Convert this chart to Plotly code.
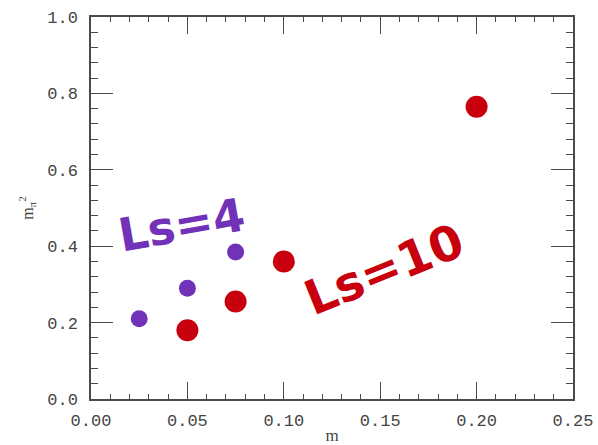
import plotly.graph_objects as go

# quark mass m and squared pion mass for two fifth-dimension extents
m_ls4 = [0.025, 0.05, 0.075]
mpi2_ls4 = [0.21, 0.29, 0.385]

m_ls10 = [0.05, 0.075, 0.10, 0.20]
mpi2_ls10 = [0.18, 0.255, 0.36, 0.765]

x_ticks = [0.00, 0.05, 0.10, 0.15, 0.20, 0.25]
x_ticklabels = ["0.00", "0.05", "0.10", "0.15", "0.20", "0.25"]
y_ticks = [0.0, 0.2, 0.4, 0.6, 0.8, 1.0]
y_ticklabels = ["0.0", "0.2", "0.4", "0.6", "0.8", "1.0"]

RED = "#c8000e"
PURPLE = "#7232b8"
AXIS = "#4a4a4a"

fig = go.Figure()

# original data markers (small open squares)
for xs, ys in ((m_ls4, mpi2_ls4), (m_ls10, mpi2_ls10)):
    fig.add_trace(go.Scatter(
        x=xs, y=ys, mode="markers",
        marker=dict(symbol="square-open", size=6, color="#888888", line=dict(width=1)),
        showlegend=False, hoverinfo="skip",
    ))

# highlighted points
fig.add_trace(go.Scatter(
    x=m_ls4, y=mpi2_ls4, mode="markers", name="Ls=4",
    marker=dict(symbol="circle", size=17, color=PURPLE, line=dict(width=0)),
    showlegend=False,
))
fig.add_trace(go.Scatter(
    x=m_ls10, y=mpi2_ls10, mode="markers", name="Ls=10",
    marker=dict(symbol="circle", size=22, color=RED, line=dict(width=0)),
    showlegend=False,
))

fig.add_annotation(
    x=0.047, y=0.455, xref="x", yref="y", text="<b>Ls=4</b>", showarrow=False,
    textangle=-10, font=dict(family="DejaVu Sans", size=46, color=PURPLE),
)
fig.add_annotation(
    x=0.152, y=0.34, xref="x", yref="y", text="<b>Ls=10</b>", showarrow=False,
    textangle=-22, font=dict(family="DejaVu Sans", size=48, color=RED),
)

axis_common = dict(
    showline=True, linecolor=AXIS, linewidth=1.5, mirror="ticks",
    showgrid=False, zeroline=False, automargin=False,
    ticks="inside", tickcolor=AXIS, tickwidth=1.2,
    tickfont=dict(family="Liberation Mono", size=17, color="#444444"),
)

fig.update_xaxes(
    range=[0, 0.25], tickvals=x_ticks, ticktext=x_ticklabels, ticklen=17,
    minor=dict(dtick=0.01, ticks="inside", ticklen=5, tickcolor=AXIS, tickwidth=1.2),
    ticklabelstandoff=5,
    title=dict(text="m", font=dict(family="Liberation Serif", size=17, color="#444444"), standoff=16),
    **axis_common,
)
fig.update_yaxes(
    range=[0, 1.0], tickvals=y_ticks, ticktext=y_ticklabels, ticklen=22,
    minor=dict(dtick=0.04, ticks="inside", ticklen=7, tickcolor=AXIS, tickwidth=1.2),
    ticklabelstandoff=8,
    title=dict(text="m<sub>π</sub><sup>2</sup>", font=dict(family="Liberation Serif", size=16, color="#444444"), standoff=10),
    **axis_common,
)

fig.update_layout(
    width=598, height=445,
    margin=dict(l=91, r=25, t=17, b=46),
    paper_bgcolor="white", plot_bgcolor="white",
)

fig.write_html("out.html")
